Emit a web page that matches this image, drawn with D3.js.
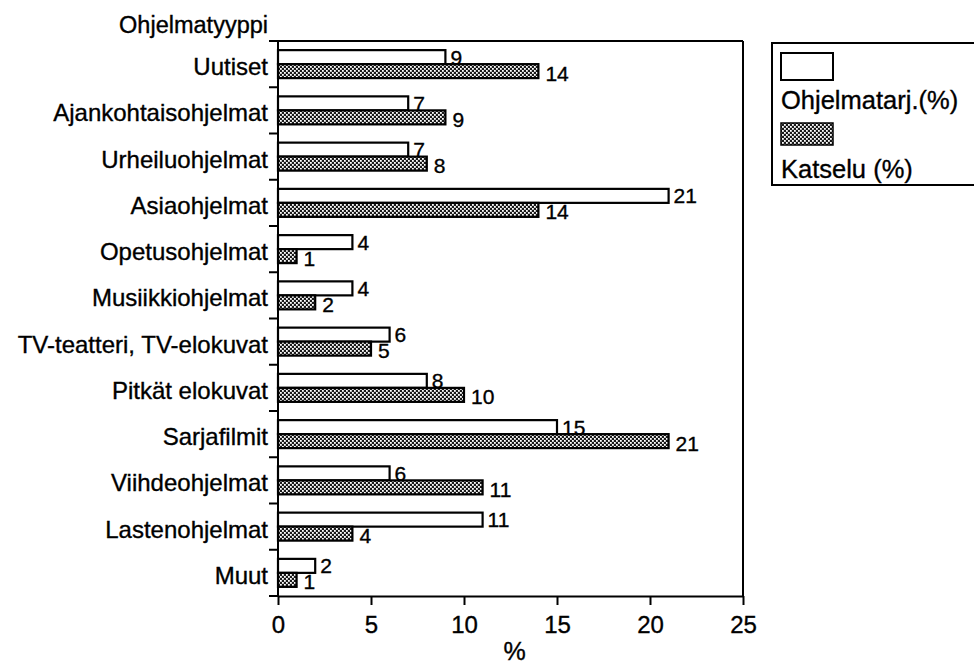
<!DOCTYPE html>
<html>
<head>
<meta charset="utf-8">
<script src="https://cdn.jsdelivr.net/npm/d3@7"></script>
<style>
  html, body { margin: 0; padding: 0; background: #fff; }
  svg { display: block; }
  text { font-family: "Liberation Sans", Arial, Helvetica, sans-serif; fill: #000; stroke: #000; stroke-width: 0.35px; }
</style>
</head>
<body>
<svg id="chart" width="974" height="665"></svg>
<script>
const categories = ["Uutiset", "Ajankohtaisohjelmat", "Urheiluohjelmat", "Asiaohjelmat",
  "Opetusohjelmat", "Musiikkiohjelmat", "TV-teatteri, TV-elokuvat", "Pitkät elokuvat",
  "Sarjafilmit", "Viihdeohjelmat", "Lastenohjelmat", "Muut"];
const ohjelmatarjonta = [9, 7, 7, 21, 4, 4, 6, 8, 15, 6, 11, 2];
const katselu = [14, 9, 8, 14, 1, 2, 5, 10, 21, 11, 4, 1];
const seriesNames = ["Ohjelmatarj.(%)", "Katselu (%)"];
const xTicks = [0, 5, 10, 15, 20, 25];
const yTitle = "Ohjelmatyyppi";
const xTitle = "%";

(function () {
const svg = d3.select("#chart");
const defs = svg.append("defs");
const pat = defs.append("pattern").attr("id", "hatch")
  .attr("patternUnits", "userSpaceOnUse").attr("width", 4).attr("height", 4);
pat.append("rect").attr("width", 4).attr("height", 4).attr("fill", "#1a1a1a");
pat.append("rect").attr("x", 0).attr("y", 0).attr("width", 1.8).attr("height", 1.8).attr("fill", "#fff");
pat.append("rect").attr("x", 2).attr("y", 2).attr("width", 1.8).attr("height", 1.8).attr("fill", "#fff");

const pl = 278, pr = 743, pt = 41, pb = 596;

const x = d3.scaleLinear().domain([0, 25]).range([pl, pr]);
const y = d3.scaleBand().domain(categories).range([pt, pb]).padding(0);
const barH = 14;

const data = categories.map((c, i) => ({ cat: c, a: ohjelmatarjonta[i], b: katselu[i] }));

// frame
svg.append("line").attr("x1", pl).attr("x2", pr).attr("y1", pt).attr("y2", pt)
  .attr("stroke", "#000").attr("stroke-width", 2);
svg.append("line").attr("x1", pr).attr("x2", pr).attr("y1", pt).attr("y2", pb)
  .attr("stroke", "#000").attr("stroke-width", 2);

// x axis
const xAxis = d3.axisBottom(x).tickValues(xTicks).tickSize(9).tickSizeOuter(0).tickPadding(11);
const gx = svg.append("g").attr("transform", `translate(0,${pb})`).call(xAxis);
gx.select(".domain").attr("stroke-width", 2);
gx.selectAll(".tick line").attr("stroke-width", 2);
gx.selectAll(".tick text").attr("font-size", 24).style("font-family", "Liberation Sans, Arial, sans-serif")
  .style("stroke", "#000").style("stroke-width", "0.35px");

// y axis: ticks at band boundaries
const boundaries = categories.map(c => y(c)).concat([pb]);
svg.append("line").attr("x1", pl).attr("x2", pl).attr("y1", pt).attr("y2", pb)
  .attr("stroke", "#000").attr("stroke-width", 2);
svg.selectAll(".ytick").data(boundaries).enter().append("line")
  .attr("x1", pl - 9).attr("x2", pl).attr("y1", d => d).attr("y2", d => d)
  .attr("stroke", "#000").attr("stroke-width", 2);

svg.selectAll(".catlabel").data(categories).enter().append("text")
  .attr("x", 268).attr("y", d => y(d) + y.bandwidth() / 2 + 11)
  .attr("text-anchor", "end").attr("font-size", 24).text(d => d);

svg.append("text").attr("x", 268).attr("y", 33).attr("text-anchor", "end")
  .attr("font-size", 23.5).text(yTitle);
svg.append("text").attr("x", (pl + pr) / 2 + 4).attr("y", 660).attr("text-anchor", "middle")
  .attr("font-size", 25).text(xTitle);

// bars
const g = svg.append("g");
data.forEach(d => {
  const c = y(d.cat) + y.bandwidth() / 2;
  g.append("rect").attr("x", x(0)).attr("y", c - barH).attr("width", x(d.a) - x(0)).attr("height", barH)
    .attr("fill", "#fff").attr("stroke", "#000").attr("stroke-width", 2.2);
  g.append("rect").attr("x", x(0)).attr("y", c).attr("width", x(d.b) - x(0)).attr("height", barH)
    .attr("fill", "url(#hatch)").attr("stroke", "#000").attr("stroke-width", 2.2);
  g.append("text").attr("x", x(d.a) + 5).attr("y", c - barH / 2 + 7.5).attr("font-size", 21).text(d.a);
  g.append("text").attr("x", x(d.b) + 7).attr("y", c + barH / 2 + 9.5).attr("font-size", 21).text(d.b);
});

// legend
const lg = svg.append("g");
lg.append("rect").attr("x", 772).attr("y", 43).attr("width", 240).attr("height", 142)
  .attr("fill", "#fff").attr("stroke", "#000").attr("stroke-width", 2);
lg.append("rect").attr("x", 781).attr("y", 53).attr("width", 52).attr("height", 27)
  .attr("fill", "#fff").attr("stroke", "#000").attr("stroke-width", 2);
lg.append("text").attr("x", 781).attr("y", 109).attr("font-size", 25.5).text(seriesNames[0]);
lg.append("rect").attr("x", 781).attr("y", 123).attr("width", 52).attr("height", 22)
  .attr("fill", "url(#hatch)").attr("stroke", "#000").attr("stroke-width", 1.5);
lg.append("text").attr("x", 781).attr("y", 178).attr("font-size", 25.5).text(seriesNames[1]);
})();
</script>
</body>
</html>
